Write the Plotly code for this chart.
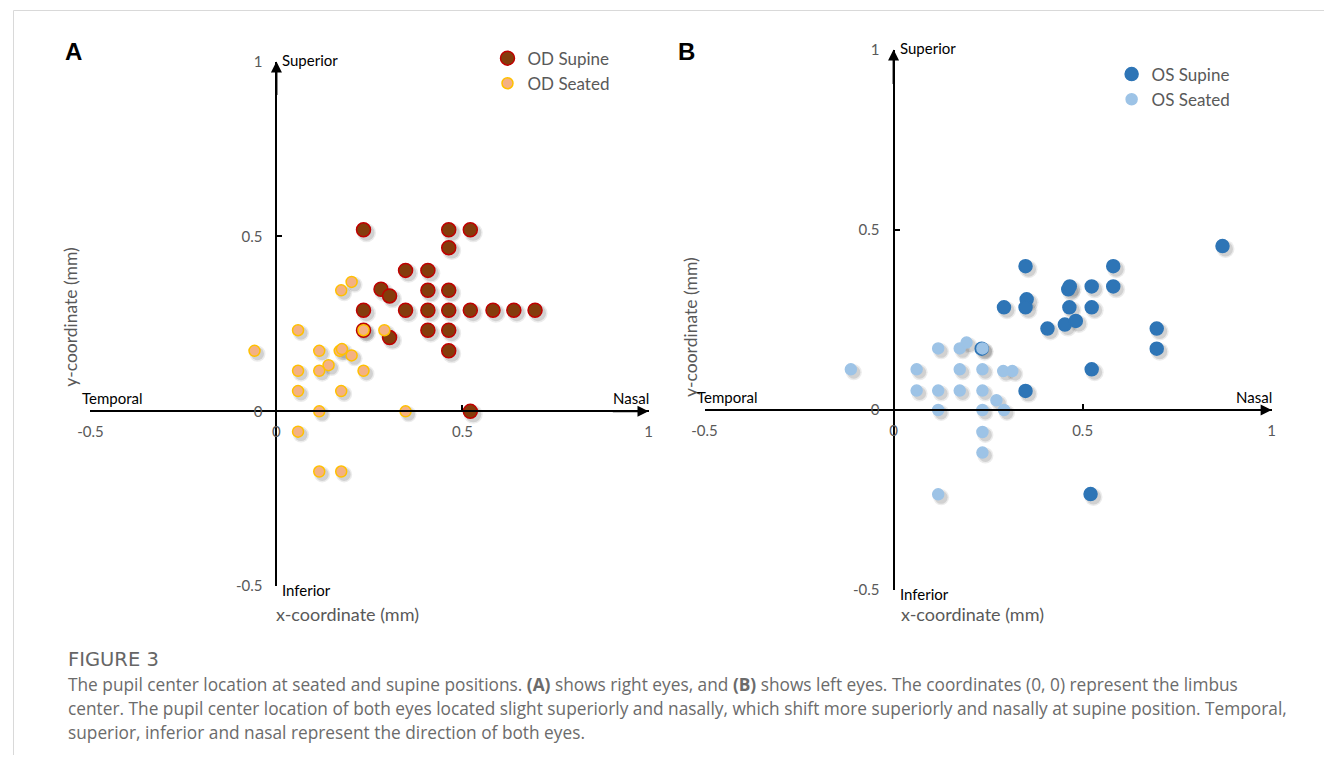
import plotly.graph_objects as go

# ---------------- data ----------------
od_supine_x = [0.234, 0.463, 0.521, 0.463, 0.347, 0.407, 0.281, 0.304, 0.407, 0.463,
               0.234, 0.347, 0.407, 0.463, 0.521, 0.582, 0.638, 0.695,
               0.234, 0.304, 0.407, 0.463, 0.463, 0.521]
od_supine_y = [0.519, 0.519, 0.519, 0.468, 0.403, 0.403, 0.349, 0.330, 0.346, 0.346,
               0.289, 0.289, 0.289, 0.289, 0.289, 0.289, 0.289, 0.289,
               0.232, 0.211, 0.232, 0.232, 0.173, 0.000]

od_seated_x = [-0.059, 0.058, 0.115, 0.170, 0.176, 0.202, 0.174, 0.290, 0.234, 0.202,
               0.140, 0.115, 0.058, 0.234, 0.058, 0.174, 0.115, 0.347, 0.058, 0.115, 0.174]
od_seated_y = [0.173, 0.232, 0.173, 0.173, 0.178, 0.370, 0.346, 0.232, 0.232, 0.160,
               0.132, 0.116, 0.116, 0.116, 0.058, 0.058, 0.000, 0.000, -0.058, -0.172, -0.172]

os_supine_x = [0.870, 0.349, 0.581, 0.462, 0.466, 0.524, 0.581, 0.352, 0.349, 0.292,
               0.465, 0.524, 0.407, 0.453, 0.482, 0.696, 0.696, 0.524, 0.349, 0.233, 0.521]
os_supine_y = [0.455, 0.399, 0.399, 0.335, 0.343, 0.343, 0.343, 0.307, 0.285, 0.285,
               0.285, 0.285, 0.226, 0.237, 0.247, 0.226, 0.170, 0.113, 0.053, 0.170, -0.233]

os_seated_x = [-0.113, 0.061, 0.061, 0.118, 0.118, 0.118, 0.118, 0.175, 0.193, 0.175,
               0.175, 0.235, 0.235, 0.235, 0.235, 0.235, 0.235, 0.272, 0.290, 0.314, 0.292]
os_seated_y = [0.113, 0.113, 0.054, 0.171, 0.054, 0.000, -0.234, 0.171, 0.187, 0.113,
               0.054, 0.171, 0.113, 0.054, 0.000, -0.061, -0.118, 0.027, 0.108, 0.108, 0.000]

tick_vals = [-0.5, 0, 0.5, 1]
tick_text = ["-0.5", "0", "0.5", "1"]
axis_range = [-0.5, 1]

# ---------------- layout geometry ----------------
W, H = 1328, 763
# picture pixel -> page pixel (the snapshot maps the page with a small offset/scale)
SX, AX = 0.987, 12.6
SY, AY = 0.977, 8.4
def px(x):
    return ((x - AX) / SX) / W
def py(y):
    return 1 - ((y - AY) / SY) / H

panels = {
    "A": dict(xd=[px(90), px(648)], yd=[py(585), py(60)]),
    "B": dict(xd=[px(704), px(1271)], yd=[py(589), py(48)]),
}

FONT = "Lato, 'Open Sans', sans-serif"
CAPFONT = "'Open Sans', Lato, sans-serif"
GREY = "#595959"

fig = go.Figure()

def zero_pos(domain, rng):
    return domain[0] + (0 - rng[0]) / (rng[1] - rng[0]) * (domain[1] - domain[0])

layout = dict(
    width=W, height=H,
    margin=dict(l=0, r=0, t=0, b=0),
    paper_bgcolor="white", plot_bgcolor="rgba(0,0,0,0)",
    font=dict(family=FONT, color=GREY),
    showlegend=True,
    annotations=[], shapes=[],
)

shadow_px = 3
for i, (key, p) in enumerate(panels.items()):
    real = i + 1          # x / x2
    shad = i + 3          # x3 / x4
    xd, yd = p["xd"], p["yd"]
    span = axis_range[1] - axis_range[0]
    dx = shadow_px / ((xd[1] - xd[0]) * W) * span
    dy = shadow_px / ((yd[1] - yd[0]) * H) * span
    # shadow (base) axes, shifted a few pixels right/down
    layout[f"xaxis{shad}"] = dict(domain=xd, range=[axis_range[0] - dx, axis_range[1] - dx],
                                  visible=False, anchor=f"y{shad}", fixedrange=True)
    layout[f"yaxis{shad}"] = dict(domain=yd, range=[axis_range[0] + dy, axis_range[1] + dy],
                                  visible=False, anchor=f"x{shad}", fixedrange=True)
    xname = "xaxis" if real == 1 else f"xaxis{real}"
    yname = "yaxis" if real == 1 else f"yaxis{real}"
    layout[xname] = dict(
        domain=xd, range=axis_range, overlaying=f"x{shad}", anchor="free",
        position=zero_pos(yd, axis_range),
        showline=True, linecolor="black", linewidth=2, showgrid=False, zeroline=False,
        ticks="inside", ticklen=5, tickwidth=2, tickcolor="black",
        tickvals=tick_vals, ticktext=tick_text, ticklabelstandoff=7,
        tickfont=dict(family=FONT, size=15, color=GREY),
    )
    layout[yname] = dict(
        domain=yd, range=axis_range, overlaying=f"y{shad}", anchor="free",
        position=zero_pos(xd, axis_range),
        showline=True, linecolor="black", linewidth=2, showgrid=False, zeroline=False,
        ticks="inside", ticklen=5, tickwidth=2, tickcolor="black",
        tickvals=tick_vals, ticktext=tick_text, ticklabelstandoff=10,
        tickfont=dict(family=FONT, size=15, color=GREY),
    )

series = [
    # panel, name, x, y, fill, line, size, legend
    ("A", "OD Supine", od_supine_x, od_supine_y, "#843C0C", "#C00000", 14, "legend"),
    ("A", "OD Seated", od_seated_x, od_seated_y, "#F4B183", "#FFC000", 11, "legend"),
    ("B", "OS Supine", os_supine_x, os_supine_y, "#2E75B6", "#2E75B6", 13, "legend2"),
    ("B", "OS Seated", os_seated_x, os_seated_y, "#9DC3E6", "#9DC3E6", 11, "legend2"),
]

# soft drop shadows first
for panel, name, xs, ys, fill, line, size, leg in series:
    k = 3 if panel == "A" else 4
    for extra, alpha in [(5, 0.10), (2, 0.16)]:
        fig.add_trace(go.Scatter(
            x=xs, y=ys, mode="markers", xaxis=f"x{k}", yaxis=f"y{k}",
            marker=dict(size=size + extra, color=f"rgba(70,70,70,{alpha})", line=dict(width=0)),
            showlegend=False, hoverinfo="skip",
        ))

for panel, name, xs, ys, fill, line, size, leg in series:
    xa = "x" if panel == "A" else "x2"
    ya = "y" if panel == "A" else "y2"
    fig.add_trace(go.Scatter(
        x=xs, y=ys, mode="markers", name=name, xaxis=xa, yaxis=ya, legend=leg,
        marker=dict(size=size, color=fill, line=dict(color=line, width=1.5)),
    ))

layout["legend"] = dict(x=px(487), y=py(39), xanchor="left", yanchor="top",
                        bgcolor="rgba(0,0,0,0)", font=dict(family=FONT, size=17, color=GREY),
                        itemwidth=30, tracegroupgap=2)
layout["legend2"] = dict(x=px(1111), y=py(55), xanchor="left", yanchor="top",
                         bgcolor="rgba(0,0,0,0)", font=dict(family=FONT, size=17, color=GREY),
                         itemwidth=30, tracegroupgap=2)

ann = layout["annotations"]
shp = layout["shapes"]

# panel letters
for letter, lx in [("A", 63), ("B", 675)]:
    ann.append(dict(text=f"<b>{letter}</b>", x=px(lx), y=py(50), xref="paper", yref="paper",
                    showarrow=False, xanchor="left", yanchor="middle",
                    font=dict(family="Liberation Sans, Arial", size=24, color="black")))

# axis titles
for cx, cy_y, cx_x in [(70, 315, 347), (690, 326, 972)]:
    ann.append(dict(text="y-coordinate (mm)", x=px(cx), y=py(cy_y), xref="paper", yref="paper",
                    xanchor="center", yanchor="middle",
                    showarrow=False, textangle=-90, font=dict(family=FONT, size=17.5, color=GREY)))
    ann.append(dict(text="x-coordinate (mm)", x=px(cx_x), y=py(613), xref="paper", yref="paper",
                    xanchor="center", yanchor="middle",
                    showarrow=False, font=dict(family=FONT, size=18, color=GREY)))

# arrows and direction labels
dir_font = dict(family=FONT, size=15, color="black")
for xa, ya in [("x", "y"), ("x2", "y2")]:
    ann.append(dict(x=1, y=0, ax=0.9, ay=0, xref=xa, yref=ya, axref=xa, ayref=ya, text="",
                    showarrow=True, arrowhead=2, arrowsize=1.1, arrowwidth=2, arrowcolor="black"))
    ann.append(dict(x=0, y=1, ax=0, ay=0.9, xref=xa, yref=ya, axref=xa, ayref=ya, text="",
                    showarrow=True, arrowhead=2, arrowsize=1.1, arrowwidth=2, arrowcolor="black"))
    ann.append(dict(text="Superior", x=0, y=1, xref=xa, yref=ya, showarrow=False,
                    xanchor="left", yanchor="middle", xshift=4, yshift=2, font=dir_font))
    ann.append(dict(text="Inferior", x=0, y=-0.5, xref=xa, yref=ya, showarrow=False,
                    xanchor="left", yanchor="middle", xshift=4, yshift=-4, font=dir_font))
    ann.append(dict(text="Temporal", x=-0.5, y=0, xref=xa, yref=ya, showarrow=False,
                    xanchor="left", yanchor="bottom", xshift=-10, yshift=2, font=dir_font))
    ann.append(dict(text="Nasal", x=1, y=0, xref=xa, yref=ya, showarrow=False,
                    xanchor="right", yanchor="bottom", xshift=2, yshift=2, font=dir_font))

# caption
cap_font = dict(family=CAPFONT, size=17.3, color="#6b6b6b")
ann.append(dict(text="FIGURE 3", x=px(66), y=py(658), xref="paper", yref="paper", showarrow=False,
                xanchor="left", yanchor="middle",
                font=dict(family="'DejaVu Sans', 'Open Sans', sans-serif", size=19.5, color="#666666")))
lines = [
    "The pupil center location at seated and supine positions. <b>(A)</b> shows right eyes, and <b>(B)</b> shows left eyes. The coordinates (0, 0) represent the limbus",
    "center. The pupil center location of both eyes located slight superiorly and nasally, which shift more superiorly and nasally at supine position. Temporal,",
    "superior, inferior and nasal represent the direction of both eyes.",
]
for j, t in enumerate(lines):
    ann.append(dict(text=t, x=px(66), y=py(683 + 24 * j), xref="paper", yref="paper", showarrow=False,
                    xanchor="left", yanchor="middle", font=cap_font))

# card border (as far up/left as the page reaches)
edge_x, edge_y = 0.5 / W, 1 - 0.5 / H
shp.append(dict(type="line", xref="paper", yref="paper", x0=edge_x, x1=1, y0=edge_y, y1=edge_y,
                line=dict(color="#d9d9d9", width=1)))
shp.append(dict(type="line", xref="paper", yref="paper", x0=edge_x, x1=edge_x, y0=edge_y, y1=0,
                line=dict(color="#d9d9d9", width=1)))

fig.update_layout(**layout)
fig.write_html(
    "out.html",
    config={"displayModeBar": False},
    post_script="document.documentElement.style.margin='0';document.documentElement.style.overflow='hidden';"
                "document.body.style.margin='0';document.body.style.overflow='hidden';",
)
